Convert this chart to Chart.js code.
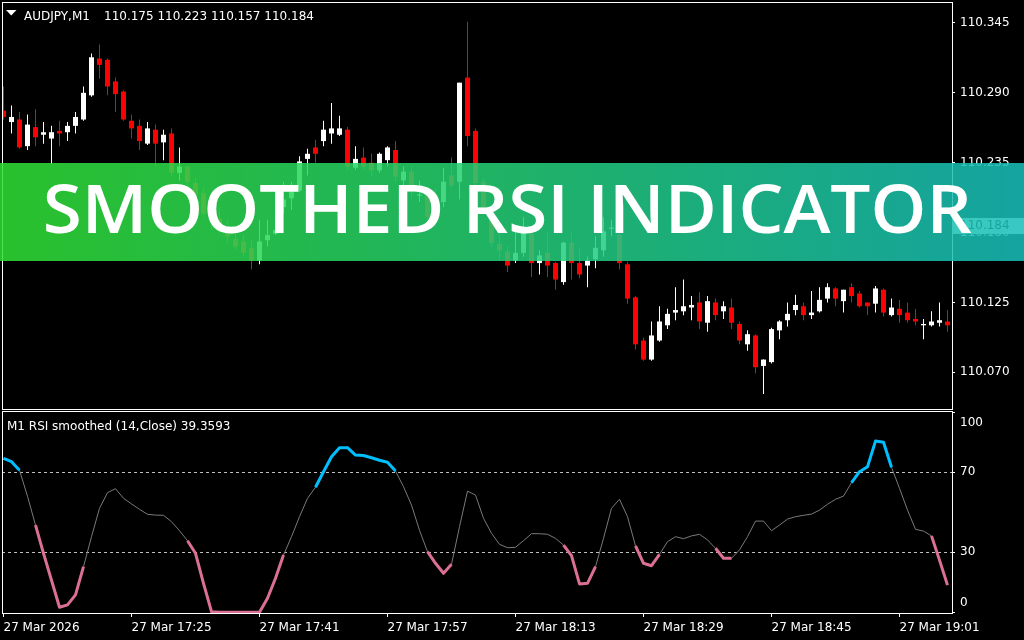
<!DOCTYPE html>
<html>
<head>
<meta charset="utf-8">
<title>Smoothed RSI Indicator</title>
<script src="https://cdn.jsdelivr.net/npm/chart.js@4.4.1/dist/chart.umd.min.js"></script>
<style>
  html, body { margin: 0; padding: 0; background: #000; }
  #wrap { position: relative; width: 1024px; height: 640px; overflow: hidden; background: #000; }
  #price-chart { position: absolute; left: 0; top: 0; }
  #rsi-chart { position: absolute; left: 0; top: 410px; }
  #banner { position: absolute; left: 0; top: 163px; }
</style>
</head>
<body>
<div id="wrap">
  <canvas id="price-chart" width="1024" height="410"></canvas>
  <canvas id="rsi-chart" width="1024" height="230"></canvas>
  <canvas id="banner" width="1024" height="98"></canvas>
</div>
<script>
// AUDJPY M1 candles, one per minute from 17:09
const candleOpen = [
  110.276, 110.267, 110.269, 110.248, 110.263, 110.257, 110.254, 110.260, 110.259, 110.264,
  110.269, 110.288, 110.317, 110.316, 110.299, 110.291, 110.268, 110.264, 110.250, 110.261,
  110.251, 110.258, 110.227, 110.232, 110.219, 110.211, 110.195, 110.191, 110.182, 110.175,
  110.173, 110.168, 110.158, 110.174, 110.179, 110.200, 110.207, 110.213, 110.238, 110.247,
  110.252, 110.258, 110.257, 110.261, 110.231, 110.239, 110.235, 110.229, 110.237, 110.245,
  110.221, 110.228, 110.209, 110.210, 110.203, 110.204, 110.225, 110.220, 110.302, 110.260,
  110.220, 110.192, 110.171, 110.165, 110.158, 110.164, 110.179, 110.156, 110.164, 110.156,
  110.141, 110.172, 110.156, 110.154, 110.159, 110.166, 110.183, 110.178, 110.155, 110.129,
  110.095, 110.080, 110.095, 110.107, 110.117, 110.118, 110.121, 110.125, 110.109, 110.125,
  110.118, 110.121, 110.108, 110.092, 110.099, 110.075, 110.078, 110.103, 110.111, 110.119,
  110.122, 110.115, 110.118, 110.128, 110.136, 110.126, 110.137, 110.132, 110.125, 110.124,
  110.135, 110.115, 110.120, 110.117, 110.112, 110.107, 110.107, 110.109, 110.110
];
const candleHigh = [
  110.295, 110.280, 110.275, 110.273, 110.277, 110.267, 110.264, 110.268, 110.267, 110.275,
  110.295, 110.321, 110.328, 110.317, 110.302, 110.292, 110.273, 110.269, 110.267, 110.265,
  110.261, 110.262, 110.247, 110.233, 110.223, 110.215, 110.202, 110.200, 110.190, 110.182,
  110.178, 110.174, 110.190, 110.190, 110.191, 110.220, 110.220, 110.240, 110.246, 110.253,
  110.268, 110.282, 110.272, 110.263, 110.248, 110.247, 110.242, 110.243, 110.248, 110.252,
  110.232, 110.232, 110.221, 110.216, 110.214, 110.231, 110.239, 110.298, 110.346, 110.262,
  110.223, 110.198, 110.182, 110.169, 110.182, 110.192, 110.182, 110.166, 110.181, 110.157,
  110.173, 110.181, 110.168, 110.161, 110.177, 110.192, 110.190, 110.179, 110.157, 110.130,
  110.097, 110.110, 110.122, 110.120, 110.137, 110.143, 110.130, 110.133, 110.130, 110.128,
  110.126, 110.128, 110.110, 110.103, 110.100, 110.080, 110.105, 110.111, 110.125, 110.131,
  110.125, 110.134, 110.137, 110.140, 110.137, 110.135, 110.140, 110.134, 110.125, 110.138,
  110.136, 110.128, 110.127, 110.125, 110.120, 110.112, 110.118, 110.125, 110.119
];
const candleLow = [
  110.269, 110.258, 110.246, 110.245, 110.248, 110.250, 110.234, 110.248, 110.252, 110.258,
  110.268, 110.287, 110.301, 110.288, 110.275, 110.268, 110.254, 110.245, 110.249, 110.232,
  110.237, 110.224, 110.221, 110.216, 110.206, 110.192, 110.182, 110.180, 110.172, 110.166,
  110.161, 110.151, 110.155, 110.169, 110.178, 110.195, 110.198, 110.212, 110.225, 110.235,
  110.248, 110.250, 110.256, 110.229, 110.229, 110.229, 110.224, 110.227, 110.232, 110.220,
  110.217, 110.207, 110.204, 110.190, 110.191, 110.200, 110.215, 110.206, 110.248, 110.215,
  110.194, 110.169, 110.158, 110.149, 110.156, 110.161, 110.145, 110.147, 110.145, 110.135,
  110.139, 110.143, 110.144, 110.137, 110.152, 110.161, 110.177, 110.151, 110.124, 110.088,
  110.079, 110.079, 110.094, 110.104, 110.111, 110.115, 110.111, 110.104, 110.102, 110.111,
  110.112, 110.104, 110.092, 110.087, 110.069, 110.053, 110.077, 110.096, 110.106, 110.115,
  110.111, 110.112, 110.117, 110.125, 110.122, 110.117, 110.125, 110.121, 110.115, 110.117,
  110.114, 110.114, 110.109, 110.109, 110.107, 110.096, 110.106, 110.106, 110.102
];
const candleClose = [
  110.271, 110.271, 110.247, 110.265, 110.255, 110.259, 110.259, 110.258, 110.264, 110.271,
  110.290, 110.318, 110.312, 110.295, 110.289, 110.269, 110.262, 110.252, 110.262, 110.250,
  110.257, 110.227, 110.232, 110.220, 110.210, 110.195, 110.188, 110.188, 110.177, 110.169,
  110.164, 110.158, 110.173, 110.178, 110.182, 110.206, 110.212, 110.236, 110.242, 110.242,
  110.261, 110.262, 110.262, 110.232, 110.238, 110.232, 110.229, 110.242, 110.247, 110.224,
  110.228, 110.217, 110.210, 110.192, 110.195, 110.220, 110.217, 110.298, 110.256, 110.219,
  110.198, 110.172, 110.166, 110.154, 110.164, 110.181, 110.156, 110.162, 110.154, 110.143,
  110.172, 110.156, 110.147, 110.158, 110.168, 110.181, 110.184, 110.156, 110.128, 110.092,
  110.080, 110.099, 110.110, 110.116, 110.119, 110.122, 110.123, 110.110, 110.126, 110.115,
  110.122, 110.109, 110.095, 110.100, 110.074, 110.080, 110.104, 110.110, 110.116, 110.123,
  110.115, 110.117, 110.127, 110.137, 110.128, 110.135, 110.130, 110.122, 110.122, 110.136,
  110.117, 110.121, 110.115, 110.111, 110.110, 110.108, 110.110, 110.111, 110.107
];

// smoothed RSI(14) per bar
const rsiValues = [
  77, 75.3, 71, 58, 43.6, 29.5, 16, 2.5, 3.7, 8.7,
  22.8, 37.8, 52, 59.8, 61.8, 57, 54.2, 51.5, 49, 48.6,
  48.5, 45.3, 40.8, 35.8, 29.5, 14.5, 0.3, 0, 0, 0,
  0, 0, 0, 7, 17, 28.6, 37.8, 47.8, 57, 62.5,
  70.3, 77.8, 82.3, 82.3, 78.6, 78.4, 77.3, 76, 75, 70.6,
  62.8, 53.6, 41, 30.3, 24.5, 19.5, 24, 42.8, 60.6, 58.6,
  47, 39.5, 34, 32.3, 32.5, 35.8, 39.3, 39.3, 39, 37,
  33.6, 28.3, 14.2, 14.5, 22.8, 37, 52, 56.5, 47.8, 33.2,
  24.5, 23.3, 29, 35.3, 37.8, 36.8, 38.2, 39, 36.2, 32,
  27, 27, 31.2, 37.8, 45.6, 45.6, 40.8, 43.6, 46.6, 47.8,
  48.5, 49.1, 51.1, 54, 56.5, 58.1, 64.8, 70.3, 72.8, 85.6,
  85, 72.5, 62, 51.1, 41.5, 40.6, 38.2, 26.1, 13.6
];
// bar ranges the indicator paints in its up / down colours
const upRuns = [[0, 2], [39, 49], [106, 111]];
const downRuns = [[4, 10], [23, 35], [53, 56], [70, 74], [79, 82], [89, 91], [116, 118]];

const priceTicks = [110.345, 110.290, 110.235, 110.180, 110.125, 110.070];
const rsiLevels = [100, 70, 30, 0];
const xTickLabels = ['27 Mar 2026', '27 Mar 17:25', '27 Mar 17:41', '27 Mar 17:57',
  '27 Mar 18:13', '27 Mar 18:29', '27 Mar 18:45', '27 Mar 19:01'];
const LABEL_STEP = 16;

const symbolName = 'AUDJPY,M1';
const headerOHLC = ['110.175', '110.223', '110.157', '110.184'];
const rsiTitle = 'M1 RSI smoothed (14,Close) 39.3593';
const BANNER_TEXT = 'SMOOTHED RSI INDICATOR';

const FONT = "'DejaVu Sans', sans-serif";
const X_MIN = -0.1875;
const X_MAX = 118.5625;
const PRICE_MIN = 110.0411;
const PRICE_MAX = 110.3615;

Chart.defaults.font.family = FONT;
Chart.defaults.font.size = 12;

const barIndex = candleOpen.map((_, i) => i);
const candleColor = ctx => candleClose[ctx.dataIndex] >= candleOpen[ctx.dataIndex] ? '#ffffff' : '#ff0000';

function drawFrame(ctx, area) {
    ctx.save();
    ctx.strokeStyle = '#ffffff';
    ctx.lineWidth = 1;
    ctx.strokeRect(area.left + 0.5, area.top + 0.5, area.right - area.left, area.bottom - area.top);
    ctx.restore();
}

const priceOverlay = {
    id: 'priceOverlay',
    afterDraw(chart) {
        const { ctx, chartArea, scales } = chart;
        drawFrame(ctx, chartArea);
        ctx.save();
        // collapse triangle
        ctx.fillStyle = '#ffffff';
        ctx.beginPath();
        ctx.moveTo(6, 10);
        ctx.lineTo(16.5, 10);
        ctx.lineTo(11.25, 15.5);
        ctx.closePath();
        ctx.fill();
        ctx.font = '12px ' + FONT;
        ctx.textBaseline = 'alphabetic';
        ctx.fillText(symbolName, 24, 19.5);
        ctx.fillText(headerOHLC.join(' '), 104, 19.5);
        // current price tag
        const py = Math.round(scales.y.getPixelForValue(Number(headerOHLC[3])));
        ctx.fillRect(953, py - 9, 71, 16);
        ctx.fillStyle = '#000000';
        ctx.textBaseline = 'middle';
        ctx.fillText(headerOHLC[3], 960, py - 1);
        ctx.restore();
    }
};

const rsiOverlay = {
    id: 'rsiOverlay',
    afterDraw(chart) {
        const { ctx, chartArea, scales } = chart;
        drawFrame(ctx, chartArea);
        ctx.save();
        ctx.fillStyle = '#ffffff';
        ctx.font = '12px ' + FONT;
        ctx.textBaseline = 'alphabetic';
        ctx.fillText(rsiTitle, 7, 19.5);
        ctx.textBaseline = 'middle';
        rsiLevels.forEach(v => {
            const raw = scales.y.getPixelForValue(v);
            const py = Math.min(Math.max(raw, chartArea.top + 12), chartArea.bottom - 10);
            ctx.fillText(String(v), 960, py);
        });
        ctx.restore();
    }
};

new Chart(document.getElementById('price-chart'), {
    type: 'bar',
    data: {
        datasets: [
            {
                label: 'body',
                data: barIndex.map(i => ({ x: i, y: [candleOpen[i], candleClose[i]] })),
                backgroundColor: candleColor,
                barThickness: 5,
                minBarLength: 1,
                grouped: false,
                inflateAmount: 0,
                borderWidth: 0,
                order: 0
            },
            {
                label: 'wick',
                data: barIndex.map(i => ({ x: i, y: [candleLow[i], candleHigh[i]] })),
                backgroundColor: candleColor,
                barThickness: 1,
                grouped: false,
                inflateAmount: 0,
                borderWidth: 0,
                order: 1
            }
        ]
    },
    options: {
        responsive: false,
        animation: false,
        layout: { padding: { left: 2, top: 2, right: 0, bottom: 1 } },
        plugins: { legend: { display: false }, tooltip: { enabled: false } },
        scales: {
            x: {
                type: 'linear', min: X_MIN, max: X_MAX, bounds: 'data',
                offset: false, display: false, grid: { offset: false }
            },
            y: {
                position: 'right', min: PRICE_MIN, max: PRICE_MAX, bounds: 'data',
                afterFit: s => { s.width = 72; s.paddingTop = 0; s.paddingBottom = 0; },
                afterBuildTicks: s => { s.ticks = priceTicks.map(v => ({ value: v })); },
                grid: { drawOnChartArea: false, drawTicks: true, tickLength: 3, color: '#ffffff' },
                border: { display: false },
                ticks: {
                    color: '#ffffff', padding: 5, font: { size: 12 },
                    callback: v => Number(v).toFixed(3)
                }
            }
        }
    },
    plugins: [priceOverlay]
});

function runSeries(runs) {
    return rsiValues.map((v, i) => ({
        x: i,
        y: runs.some(([a, b]) => i >= a && i <= b) ? v : null
    }));
}

new Chart(document.getElementById('rsi-chart'), {
    type: 'line',
    data: {
        datasets: [
            {
                label: 'up', data: runSeries(upRuns),
                borderColor: '#00bfff', borderWidth: 3, pointRadius: 0, tension: 0,
                spanGaps: false, borderJoinStyle: 'round', order: 0
            },
            {
                label: 'down', data: runSeries(downRuns),
                borderColor: '#db7093', borderWidth: 3, pointRadius: 0, tension: 0,
                spanGaps: false, borderJoinStyle: 'round', order: 1
            },
            {
                label: 'rsi', data: rsiValues.map((v, i) => ({ x: i, y: v })),
                borderColor: '#7a7a7a', borderWidth: 1, pointRadius: 0, tension: 0, order: 2
            }
        ]
    },
    options: {
        responsive: false,
        animation: false,
        layout: { padding: { left: 2, top: 1, right: 0, bottom: 0 } },
        plugins: { legend: { display: false }, tooltip: { enabled: false } },
        scales: {
            x: {
                type: 'linear', min: X_MIN, max: X_MAX, bounds: 'data', position: 'bottom',
                afterBuildTicks: s => { s.ticks = xTickLabels.map((_, k) => ({ value: k * LABEL_STEP })); },
                afterFit: s => { s.height = 27; s.paddingLeft = 0; s.paddingRight = 0; },
                grid: { drawOnChartArea: false, drawTicks: true, tickLength: 4, color: '#ffffff' },
                border: { display: false },
                ticks: {
                    color: '#ffffff', padding: 4, align: 'start', maxRotation: 0, autoSkip: false,
                    font: { size: 12 },
                    callback: (v, k) => xTickLabels[k]
                }
            },
            y: {
                position: 'right', min: -0.35, max: 100.65, bounds: 'data',
                afterFit: s => { s.width = 72; s.paddingTop = 0; s.paddingBottom = 0; },
                afterBuildTicks: s => { s.ticks = rsiLevels.map(v => ({ value: v })); },
                grid: {
                    drawTicks: true, tickLength: 3, tickColor: '#ffffff',
                    color: c => (c.tick && (c.tick.value === 70 || c.tick.value === 30)) ? '#c0c0c0' : 'rgba(0,0,0,0)'
                },
                border: { display: false, dash: [3, 3] },
                ticks: { display: false }
            }
        }
    },
    plugins: [rsiOverlay]
});

// title banner laid over the chart
(function drawBanner() {
    const cv = document.getElementById('banner');
    const ctx = cv.getContext('2d');
    const grad = ctx.createLinearGradient(0, 0, 1024, 0);
    grad.addColorStop(0, 'rgb(48, 224, 52)');
    grad.addColorStop(1, 'rgb(24, 190, 186)');
    ctx.globalAlpha = 0.86;
    ctx.fillStyle = grad;
    ctx.fillRect(0, 0, 1024, 98);
    ctx.globalAlpha = 1;
    ctx.fillStyle = '#ffffff';
    ctx.font = "600 67px 'Open Sans', sans-serif";
    ctx.textBaseline = 'alphabetic';
    const m = ctx.measureText(BANNER_TEXT);
    const ink = m.actualBoundingBoxLeft + m.actualBoundingBoxRight;
    ctx.save();
    ctx.translate(46, 0);
    ctx.scale(926 / ink, 1);
    ctx.fillText(BANNER_TEXT, m.actualBoundingBoxLeft, 70);
    ctx.restore();
})();
</script>
</body>
</html>
